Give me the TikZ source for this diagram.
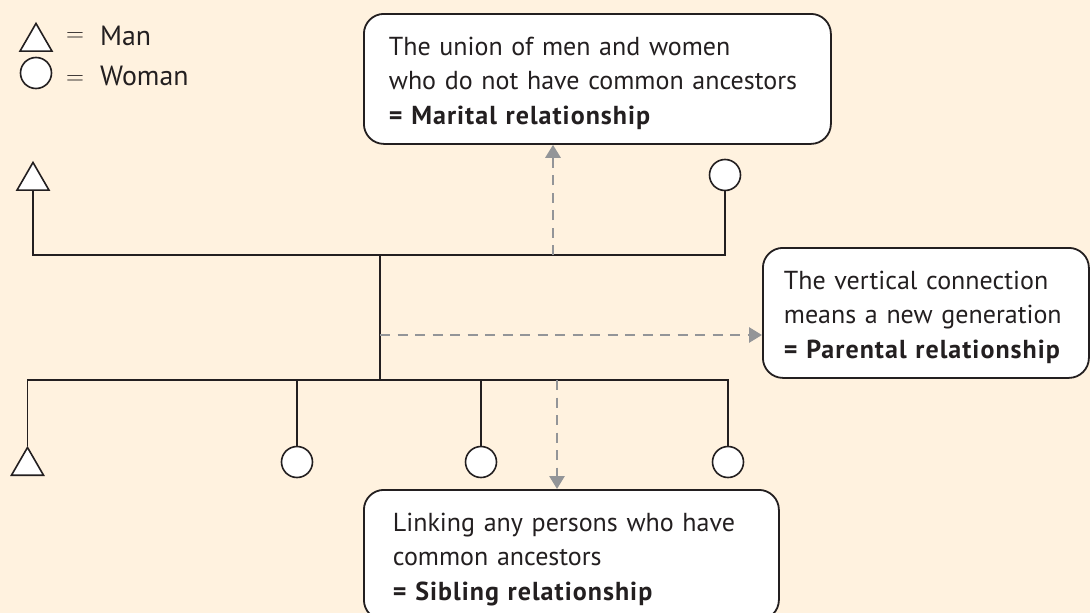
\documentclass[tikz,border=0pt]{standalone}
\usepackage{fontspec}
\setmainfont{PT Sans}[BoldFeatures={LetterSpace=4}]
\usetikzlibrary{arrows.meta,shapes.geometric}
\definecolor{bg}{HTML}{FFF2DF}
\definecolor{ink}{HTML}{231F20}
\definecolor{arrowgray}{HTML}{939598}
\newcommand{\toppad}{\rule{0pt}{27pt}}
\tikzset{
  man/.style={regular polygon, regular polygon sides=3, draw=ink, fill=white, line width=1.6pt, minimum size=37pt, inner sep=0pt},
  woman/.style={circle, draw=ink, fill=white, line width=1.6pt, minimum size=31pt, inner sep=0pt},
  tree/.style={draw=ink, line width=1.6pt},
  hint/.style={draw=arrowgray, line width=2.8pt, dash pattern=on 10pt off 7.5pt, -{Triangle[length=13pt,width=15pt,fill=arrowgray]}},
  infobox/.style={draw=ink, fill=white, line width=1.8pt, rounded corners=20pt, align=left, minimum height=130pt, anchor=north west, inner ysep=0pt, font=\fontsize{26}{34.5}\selectfont, text=ink},
  legtext/.style={font=\fontsize{27.8}{32}\selectfont, text=ink, inner sep=0pt},
  eqtext/.style={font=\fontsize{24}{28}\selectfont, text=ink, inner sep=0pt},
}
\begin{document}
\begin{tikzpicture}[x=1pt,y=-1pt]
\useasboundingbox (0,0) rectangle (1090,613);
\fill[bg] (0,0) rectangle (1090,613);
\clip (0,0) rectangle (1090,613);

% legend
\node[man, anchor=south] (lm) at (36,52) {};
\node[woman] (lw) at (36,73) {};
\node[eqtext] (eq1) at (75,37) {$=$};
\node[eqtext] (eq2) at (75,80) {$=$};
\node[legtext, anchor=base west] (tman) at (100,45) {Man};
\node[legtext, anchor=base west] (twoman) at (100,85) {Woman};

% persons
\node[man, anchor=south] (f) at (33,191) {};
\node[woman] (m) at (725,175) {};
\node[man, anchor=south] (s0) at (27.5,476) {};
\node[woman] (d1) at (297,462) {};
\node[woman] (d2) at (481,462) {};
\node[woman] (d3) at (728,462) {};

% junctions
\coordinate (ml) at (380,255);
\coordinate (sl) at (380,380);
\coordinate (c1) at (553,255);
\coordinate (c2) at (380,335);
\coordinate (c3) at (557,380);

% boxes
\node[infobox, text width=417pt, inner xsep=25pt] (mbox) at (363,13)
  {\toppad\mbox{The union of men and women}\\\mbox{who do not have common ancestors}\\\mbox{\textbf{= Marital relationship}}};
\node[infobox, text width=284pt, inner xsep=21pt] (pbox) at (762,247)
  {\toppad\mbox{The vertical connection}\\\mbox{means a new generation}\\\mbox{\textbf{= Parental relationship}}};
\node[infobox, text width=357pt, inner xsep=29pt] (sbox) at (363,489)
  {\toppad\mbox{Linking any persons who have}\\\mbox{common ancestors}\\\mbox{\textbf{= Sibling relationship}}};

% tree lines
\draw[tree] (f.south) |- (ml) -| (m.south);
\draw[tree] (ml) -- (sl);
\draw[tree] (sl) -| (s0.north);
\draw[tree] (sl) -| (d1.north);
\draw[tree] (sl) -| (d2.north);
\draw[tree] (sl) -| (d3.north);

% hint arrows
\draw[hint] (c1) -- (c1 |- mbox.south);
\draw[hint] (c2) -- (c2 -| pbox.west);
\draw[hint] (c3) -- (c3 |- sbox.north);
\end{tikzpicture}
\end{document}
